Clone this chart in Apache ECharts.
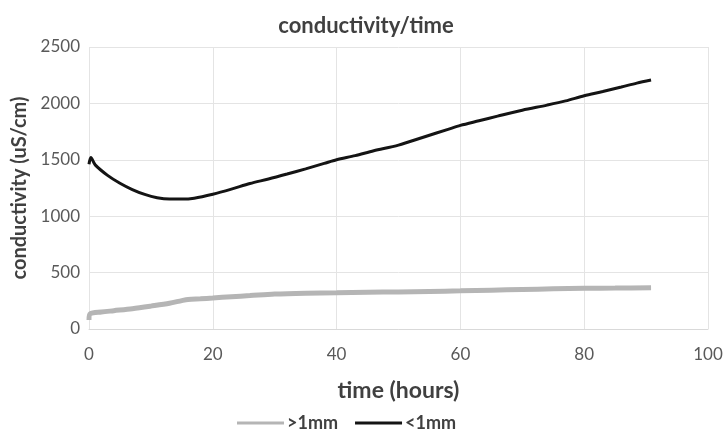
<!DOCTYPE html>
<html><head><meta charset="utf-8">
<script src="https://cdn.jsdelivr.net/npm/echarts@6/dist/echarts.min.js"></script>
<style>html,body{margin:0;padding:0;background:#fff}#c{width:727px;height:430px}</style>
</head><body><div id="c"></div>
<script>
var titleText = 'conductivity/time';
var xName = 'time (hours)';
var yName = 'conductivity (uS/cm)';
var seriesNames = ['>1mm', '<1mm'];
var blackT = [0,0.3,1,3,5,7,9,11,13,15,17,20,23,26,29,32,35,38,40,43,46,50,54,58,60,63,66,70,74,77,80,83,86,88.5,90.8];
var blackV = [1460,1520,1455,1362,1292,1236,1193,1164,1152,1152,1160,1195,1240,1290,1330,1374,1420,1468,1500,1537,1580,1630,1700,1770,1805,1846,1887,1940,1985,2022,2068,2105,2145,2180,2207];
var grayT = [0,0.2,2,4,7,10,13,15,16,18,20,23,26,30,35,40,45,50,55,60,65,70,75,80,85,90.8];
var grayV = [80,135,150,162,180,203,228,252,262,268,275,286,296,310,318,322,326,328,333,338,344,350,356,361,363,366];

function pairs(t, v){ return t.map(function(x,i){ return [x, v[i]]; }); }
var font = 'Lato, "Open Sans", sans-serif';
var chart = echarts.init(document.getElementById('c'));
chart.setOption({
  animation:false,
  title:{text:titleText,left:361,textAlign:'center',top:10,textStyle:{fontFamily:font,fontSize:22,fontWeight:'bold',color:'#404040'}},
  grid:{left:89,right:19,top:47,bottom:101},
  legend:{top:409,left:232,itemWidth:47,itemHeight:3,itemGap:17,icon:'rect',
    textStyle:{fontFamily:font,fontSize:18,fontWeight:'bold',color:'#404040',padding:[0,0,0,-2]},
    data:seriesNames},
  xAxis:{type:'value',min:0,max:100,interval:20,name:xName,nameLocation:'middle',nameGap:50,
    nameTextStyle:{fontFamily:font,fontSize:23,fontWeight:'bold',color:'#404040'},
    axisLine:{lineStyle:{color:'#d9d9d9'}},axisTick:{show:false},
    axisLabel:{fontFamily:font,fontSize:17,color:'#595959',margin:17},
    splitLine:{lineStyle:{color:'#e4e4e4'}}},
  yAxis:{type:'value',min:0,max:2500,interval:500,name:yName,nameLocation:'middle',nameGap:57,
    nameTextStyle:{fontFamily:font,fontSize:20,fontWeight:'bold',color:'#404040'},
    axisLine:{show:false},axisTick:{show:false},
    axisLabel:{fontFamily:font,fontSize:17,color:'#595959',margin:9,formatter:function(v){return String(v);}},
    splitLine:{lineStyle:{color:'#e4e4e4'}}},
  series:[
    {name:seriesNames[0],type:'line',data:pairs(grayT,grayV),showSymbol:false,smooth:0.3,
     itemStyle:{color:'#b5b5b5'},lineStyle:{color:'#b5b5b5',width:5}},
    {name:seriesNames[1],type:'line',data:pairs(blackT,blackV),showSymbol:false,smooth:0.3,
     itemStyle:{color:'#141414'},lineStyle:{color:'#141414',width:3}}
  ]
});
</script></body></html>
